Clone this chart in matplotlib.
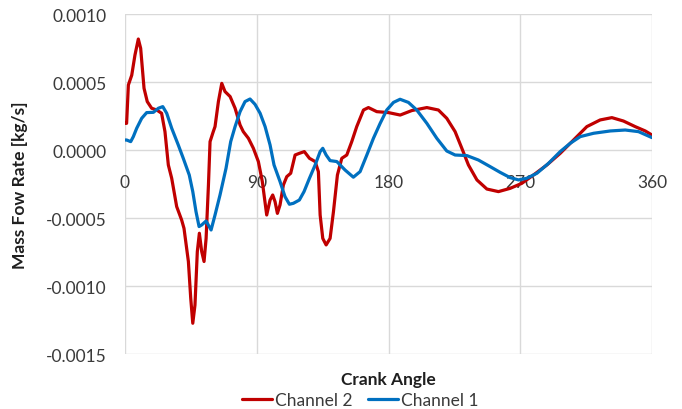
import matplotlib
matplotlib.use("Agg")
from matplotlib import pyplot as plt

plt.rcParams['font.family'] = ['Lato', 'DejaVu Sans']

# Channel 2 (red) - crank angle [deg] vs mass flow [kg/s]
ch2_angle = [0, 1.1, 2.3, 4.6, 6.8, 9.1, 10.7, 13.0, 15.2, 18.2, 21.7, 25.0, 27.3, 29.6,
             31.9, 35.3, 38.7, 40.3, 43.3, 44.9, 46.3, 47.8, 49.4, 50.8, 52.4, 54.0, 55.4,
             57.0, 58.1, 60.3, 61.5, 63.8, 66.1, 68.3, 71.8, 75.2, 78.6, 80.8, 84.3, 87.7,
             91.1, 93.8, 96.8, 99.1, 100.9, 102.5, 104.1, 105.9, 108.2, 110.5, 113.2, 116.2,
             119.1, 122.5, 126.0, 129.9, 132.1, 133.3, 135.1, 137.4, 140.1, 142.4, 145.1,
             148.1, 151.5, 154.9, 158.3, 162.9, 166.3, 172.0, 180.0, 188.0, 195.9, 206.2,
             214.1, 219.8, 225.5, 230.1, 234.6, 240.4, 247.2, 255.1, 263.1, 271.1, 279.0,
             288.2, 297.3, 306.4, 315.5, 324.6, 332.6, 340.5, 348.5, 355.4, 360.0]
ch2_flow = [0.000196, 0.000196, 0.000478, 0.00055, 0.000698, 0.000816, 0.000748, 0.000454,
            0.000356, 0.000307, 0.000294, 0.00027, 0.000135, -0.00011, -0.000208, -0.000416,
            -0.000515, -0.000576, -0.00082, -0.00109, -0.001274, -0.00114, -0.000747,
            -0.000612, -0.000747, -0.00082, -0.00065, -0.000257, 0.0000615, 0.000135,
            0.000172, 0.000356, 0.00049, 0.00043, 0.000393, 0.000307, 0.000184, 0.000135,
            0.000086, 0.0000125, -0.000085, -0.000232, -0.000478, -0.000368, -0.000331,
            -0.00038, -0.000466, -0.000404, -0.000257, -0.000196, -0.000171, -0.0000368,
            -0.0000245, -0.0000118, -0.000061, -0.000085, -0.000159, -0.000478, -0.00065,
            -0.000698, -0.00065, -0.000453, -0.000184, -0.000061, -0.0000368, 0.0000615,
            0.000172, 0.000294, 0.000312, 0.000282, 0.000275, 0.000257, 0.00029, 0.000312,
            0.000294, 0.000233, 0.000135, 0.0000125, -0.00011, -0.00022, -0.000287,
            -0.000306, -0.000282, -0.000245, -0.000184, -0.00011, -0.0000245, 0.0000735,
            0.000172, 0.000221, 0.000238, 0.000213, 0.000172, 0.00014, 0.00011]

# Channel 1 (blue)
ch1_angle = [0, 1.1, 3.9, 5.7, 8.0, 11.4, 14.8, 19.4, 22.8, 25.8, 28.5, 31.9, 36.4, 39.8,
             43.9, 46.3, 48.5, 50.6, 52.4, 55.4, 58.8, 61.5, 64.9, 69.0, 72.2, 75.2, 78.6,
             82.0, 85.4, 88.8, 92.3, 95.7, 99.1, 101.8, 105.9, 109.3, 112.3, 115.0, 119.1,
             122.3, 126.0, 129.9, 133.3, 135.1, 137.4, 140.1, 144.7, 150.3, 156.0, 160.6,
             165.2, 169.7, 174.3, 178.8, 183.4, 187.9, 193.6, 199.3, 206.2, 213.0, 219.8,
             225.5, 233.5, 241.4, 249.4, 256.2, 263.1, 268.8, 274.5, 281.4, 289.3, 297.3,
             304.1, 311.0, 320.1, 331.5, 341.7, 350.8, 360.0]
ch1_flow = [0.0000735, 0.0000735, 0.0000615, 0.0000985, 0.00016, 0.000233, 0.000275,
            0.000277, 0.000307, 0.000319, 0.00027, 0.00016, 0.0000368, -0.000061, -0.000184,
            -0.000306, -0.000453, -0.000563, -0.000551, -0.000522, -0.000588, -0.000478,
            -0.000331, -0.000135, 0.0000615, 0.000172, 0.000282, 0.000356, 0.000375,
            0.000336, 0.00027, 0.000172, 0.0000368, -0.00011, -0.000232, -0.000343,
            -0.000399, -0.000392, -0.000368, -0.000306, -0.000208, -0.00011, -0.0000118,
            0.0000125, -0.0000368, -0.000078, -0.000085, -0.000147, -0.0002, -0.000159,
            -0.0000368, 0.000086, 0.000196, 0.000294, 0.00035, 0.000373, 0.00035, 0.000294,
            0.000196, 0.000086, -0.0000074, -0.0000368, -0.000041, -0.0000735, -0.000122,
            -0.000164, -0.000203, -0.00022, -0.000208, -0.000171, -0.000098, -0.0000118,
            0.000049, 0.0000985, 0.000123, 0.00014, 0.000147, 0.000135, 0.000091]

x_ticks = [0, 90, 180, 270, 360]
y_ticks = [-0.0015, -0.0010, -0.0005, 0.0, 0.0005, 0.0010]

fig = plt.figure(figsize=(6.82, 4.10), dpi=100)
ax = fig.add_axes([125 / 682, 55 / 410, 527 / 682, 340 / 410])

ax.plot(ch2_angle, ch2_flow, color="#C00000", linewidth=2.3, label="Channel 2",
        solid_joinstyle="round", solid_capstyle="round")
ax.plot(ch1_angle, ch1_flow, color="#0070C0", linewidth=2.3, label="Channel 1",
        solid_joinstyle="round", solid_capstyle="round")

ax.set_xlim(0, 360)
ax.set_ylim(-0.0015, 0.0010)
ax.set_xticks(x_ticks)
ax.set_yticks(y_ticks)
ax.set_yticklabels([f"{v:.4f}" for v in y_ticks])

# gridlines form the frame, x labels sit on the zero line
ax.grid(True, color="#d9d9d9", linewidth=1.0)
ax.set_axisbelow(True)
for side in ["top", "right", "left"]:
    ax.spines[side].set_visible(False)
ax.spines["bottom"].set_position(("data", 0))
ax.spines["bottom"].set_visible(False)
ax.tick_params(axis="both", length=0, labelsize=12.5, colors="#3a3a3a")
ax.tick_params(axis="x", pad=17)
ax.tick_params(axis="y", pad=13)

fig.text(388 / 682, 1 - 380 / 410, "Crank Angle", ha="center", va="center",
         fontsize=12.5, fontweight="bold", color="#1f1f1f")
fig.text(20 / 682, 1 - 185 / 410, "Mass Fow Rate [kg/s]", ha="center", va="center",
         rotation=90, fontsize=12.5, fontweight="bold", color="#1f1f1f")

fig.legend(loc="center", bbox_to_anchor=(360 / 682, 1 - 401 / 410), ncol=2,
           frameon=False, fontsize=12.5, handlelength=1.75, handletextpad=0.15,
           columnspacing=0.9, labelcolor="#3a3a3a")

fig.savefig("out.png", dpi=100)
